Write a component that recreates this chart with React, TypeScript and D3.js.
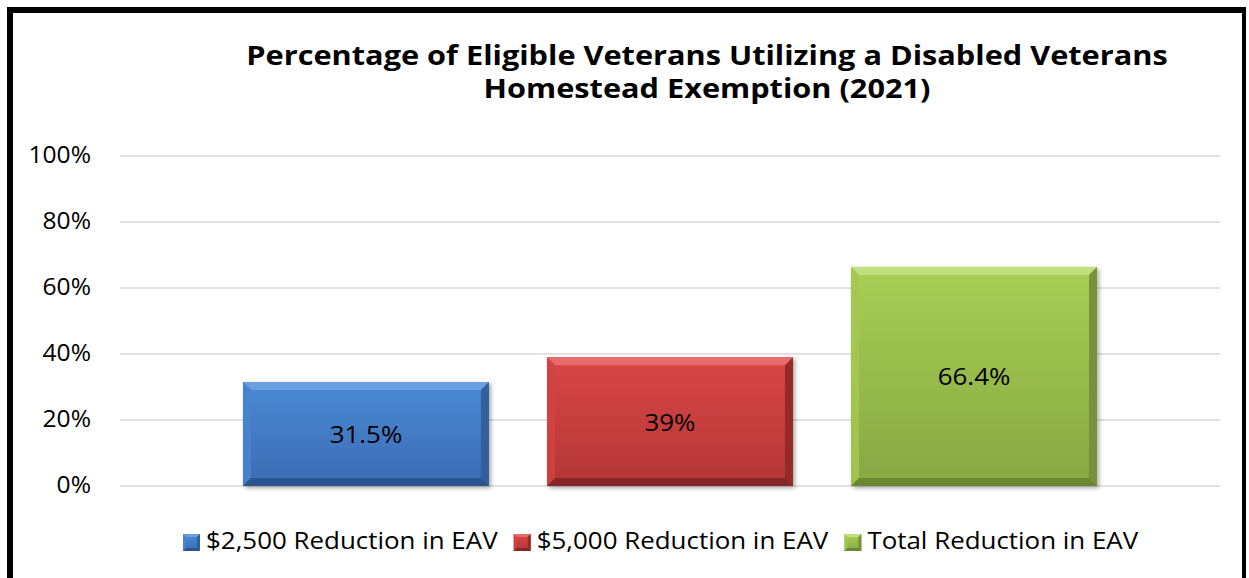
import React from "react";
import * as d3 from "d3";

const seriesNames = ["$2,500 Reduction in EAV", "$5,000 Reduction in EAV", "Total Reduction in EAV"];
const seriesValues = [31.5, 39, 66.4];
const valueLabels = ["31.5%", "39%", "66.4%"];
const yTicks = [0, 20, 40, 60, 80, 100];
const titleLines = [
  "Percentage of Eligible Veterans Utilizing a Disabled Veterans",
  "Homestead Exemption (2021)",
];

const palettes = [
  { topFace: "#6b9fe0", front0: "#4c89d5", front1: "#3a6cb3", left: "#4a84cd", right: "#30609f", bottom: "#2b5690" },
  { topFace: "#e86b6b", front0: "#da4646", front1: "#b33636", left: "#d24343", right: "#962b2b", bottom: "#862626" },
  { topFace: "#bfe07c", front0: "#a8cf55", front1: "#87a742", left: "#a2c852", right: "#76933a", bottom: "#6b8633" },
];

const W = 1249;
const H = 578;
const plotLeft = 120;
const plotRight = 1220;
const yTop = 156;
const yBottom = 486;
const baseFont = "'Open Sans', sans-serif";
const textStretch = 1.08;
const titleWidth = 922;
const titleSize = 26;

function measure(text: string, font: string): number {
  const c = document.createElement("canvas");
  const ctx = c.getContext("2d")!;
  ctx.font = font;
  return ctx.measureText(text).width;
}

function SText({ x, y, sx, anchor = "start", size, weight = "normal", children }: any) {
  return (
    <text
      transform={`translate(${x},${y}) scale(${sx},1)`}
      textAnchor={anchor}
      fontFamily={baseFont}
      fontSize={size}
      fontWeight={weight}
      fill="#000"
    >
      {children}
    </text>
  );
}

function BevelBar({ x0, y0, x1, y1, b, p, id }: any) {
  const pts = (a: number[][]) => a.map((q) => q.join(",")).join(" ");
  return (
    <g>
      <defs>
        <linearGradient id={id} x1="0" y1="0" x2="0" y2="1">
          <stop offset="0" stopColor={p.front0} />
          <stop offset="1" stopColor={p.front1} />
        </linearGradient>
      </defs>
      <rect x={x0} y={y0} width={x1 - x0} height={y1 - y0} fill={`url(#${id})`} />
      <polygon points={pts([[x0, y0], [x1, y0], [x1 - b, y0 + b], [x0 + b, y0 + b]])} fill={p.topFace} />
      <polygon points={pts([[x0, y0], [x0 + b, y0 + b], [x0 + b, y1 - b], [x0, y1]])} fill={p.left} opacity={0.85} />
      <polygon points={pts([[x1, y0], [x1, y1], [x1 - b, y1 - b], [x1 - b, y0 + b]])} fill={p.right} />
      <polygon points={pts([[x0, y1], [x0 + b, y1 - b], [x1 - b, y1 - b], [x1, y1]])} fill={p.bottom} />
    </g>
  );
}

export default function App() {
  const x = d3
    .scaleBand<string>()
    .domain(seriesNames)
    .range([plotLeft, plotRight])
    .paddingInner(0.191)
    .paddingOuter(0.4045);
  const y = d3.scaleLinear().domain([0, 100]).range([yBottom, yTop]);

  const titleSx = titleWidth / measure(titleLines[0], `bold ${titleSize}px ${baseFont}`);

  const legendFontSize = 24;
  const legendFont = `${legendFontSize}px ${baseFont}`;
  const sq = 17;
  let lx = 183;
  const legendItems = seriesNames.map((name, i) => {
    const w = measure(name, legendFont) * textStretch;
    const item = { name, i, x: lx, w };
    lx += sq + 6 + w + 16;
    return item;
  });

  return (
    <svg width={W} height={H} style={{ position: "absolute", left: 0, top: 0, background: "#fff" }}>
      <defs>
        <filter id="shadow" x="-10%" y="-10%" width="130%" height="130%">
          <feDropShadow dx="2" dy="2" stdDeviation="2" floodColor="#000" floodOpacity="0.35" />
        </filter>
      </defs>
      <rect x={0} y={0} width={W} height={H} fill="#fff" />
      {/* frame */}
      <rect x={7} y={7} width={6} height={H - 7} fill="#000" />
      <rect x={7} y={7} width={1239} height={6} fill="#000" />
      <rect x={1242} y={7} width={4} height={H - 7} fill="#000" />

      {/* title */}
      {titleLines.map((t, i) => (
        <SText key={i} x={707} y={65 + i * 33} sx={titleSx} anchor="middle" size={titleSize} weight="bold">
          {t}
        </SText>
      ))}

      {/* grid + ticks */}
      {yTicks.map((t) => (
        <g key={t}>
          <line x1={plotLeft} x2={plotRight} y1={y(t)} y2={y(t)} stroke="#d9d9d9" strokeWidth={1.5} />
          <SText x={91} y={y(t) + 7} sx={1.07} anchor="end" size={23}>
            {t}%
          </SText>
        </g>
      ))}

      {/* bars */}
      {seriesNames.map((name, i) => {
        const x0 = x(name)!;
        const x1 = x0 + x.bandwidth();
        const y0 = y(seriesValues[i]);
        const y1 = y(0);
        return (
          <g key={name} filter="url(#shadow)">
            <BevelBar x0={x0} y0={y0} x1={x1} y1={y1} b={8} p={palettes[i]} id={`g${i}`} />
          </g>
        );
      })}
      {seriesNames.map((name, i) => {
        const cx = x(name)! + x.bandwidth() / 2;
        const cy = (y(seriesValues[i]) + y(0)) / 2;
        return (
          <SText key={name} x={cx} y={cy + 9} sx={textStretch} anchor="middle" size={24}>
            {valueLabels[i]}
          </SText>
        );
      })}

      {/* legend */}
      {legendItems.map((it) => (
        <g key={it.name}>
          <BevelBar x0={it.x} y0={534} x1={it.x + sq} y1={534 + sq} b={3} p={palettes[it.i]} id={`lg${it.i}`} />
          <SText x={it.x + sq + 6} y={549} sx={textStretch} size={legendFontSize}>
            {it.name}
          </SText>
        </g>
      ))}
    </svg>
  );
}
